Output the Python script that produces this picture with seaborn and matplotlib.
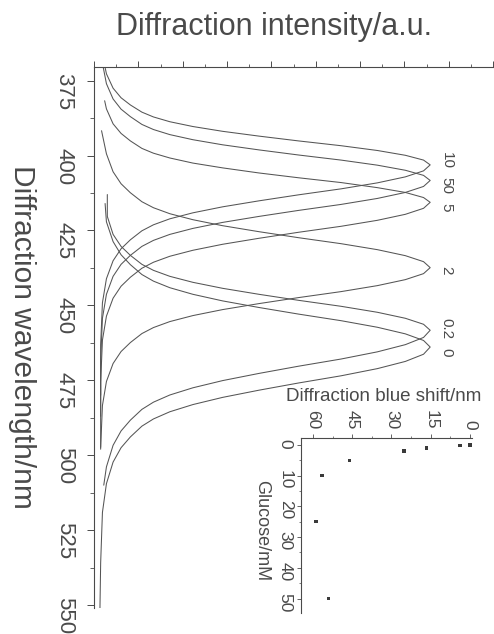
import matplotlib
matplotlib.use("Agg")
import matplotlib.pyplot as plt
from matplotlib.ticker import MultipleLocator
import seaborn as sns
import pandas as pd

# glucose concentration (mM) of each spectrum and its label
curve_labels = ["10", "50", "5", "2", "0.2", "0"]

# spectra: wavelength (nm) and intensity (a.u.)
wl_10 = [355.1, 366.3, 372.7, 377.5, 380.7, 383.1, 385.5, 387.1, 388.7, 390.3, 391.9, 393.5, 395.1, 396.7, 398.3,
         399.9, 401.5, 403.1, 405.1, 407.1, 409.1, 411.1, 413.1, 415.1, 417.1, 419.1, 421.1, 423.1, 425.1, 428.1,
         431.1, 435.1, 441.1, 449.1, 463.1, 480.0]
in_10 = [0.15, 0.19, 0.28, 0.43, 0.61, 0.82, 1.08, 1.34, 1.71, 2.23, 2.90, 3.72, 4.61, 5.57, 6.39, 7.02, 7.43, 7.58,
         7.43, 7.02, 6.39, 5.57, 4.61, 3.72, 2.90, 2.23, 1.71, 1.34, 1.08, 0.82, 0.61, 0.43, 0.28, 0.19, 0.15, 0.15]
wl_50 = [357.3, 369.2, 376.0, 381.1, 384.5, 387.0, 389.6, 391.3, 393.0, 394.7, 396.4, 398.1, 399.8, 401.5, 403.2,
         404.9, 406.6, 408.3, 410.3, 412.3, 414.3, 416.3, 418.3, 420.3, 422.3, 424.3, 426.3, 428.3, 430.3, 433.3,
         436.3, 440.3, 446.3, 454.3, 468.3, 487.0]
in_50 = [0.15, 0.19, 0.28, 0.43, 0.61, 0.82, 1.08, 1.34, 1.71, 2.23, 2.90, 3.72, 4.61, 5.57, 6.39, 7.02, 7.43, 7.58,
         7.43, 7.02, 6.39, 5.57, 4.61, 3.72, 2.90, 2.23, 1.71, 1.34, 1.08, 0.82, 0.61, 0.43, 0.28, 0.19, 0.15, 0.15]
wl_5 = [381.7, 384.4, 389.4, 392.6, 395.1, 397.6, 399.2, 400.8, 402.5, 404.1, 405.8, 407.4, 409.0, 410.7, 412.3,
        414.0, 415.6, 417.6, 419.6, 421.6, 423.6, 425.6, 427.6, 429.6, 431.6, 433.6, 435.6, 437.6, 440.6, 443.6,
        447.6, 453.6, 461.6, 475.6, 498.0]
in_5 = [0.24, 0.28, 0.43, 0.61, 0.82, 1.08, 1.34, 1.71, 2.23, 2.90, 3.72, 4.61, 5.57, 6.39, 7.02, 7.43, 7.58,
        7.43, 7.02, 6.39, 5.57, 4.61, 3.72, 2.90, 2.23, 1.71, 1.34, 1.08, 0.82, 0.61, 0.43, 0.28, 0.19, 0.15, 0.15]
wl_2 = [391.7, 399.4, 405.4, 409.4, 412.4, 415.4, 417.4, 419.4, 421.4, 423.4, 425.4, 427.4, 429.4, 431.4, 433.4,
        435.4, 437.4, 439.4, 441.4, 443.4, 445.4, 447.4, 449.4, 451.4, 453.4, 455.4, 457.4, 459.4, 462.4, 465.4,
        469.4, 475.4, 483.4, 497.4]
in_2 = [0.17, 0.28, 0.43, 0.61, 0.82, 1.08, 1.34, 1.71, 2.23, 2.90, 3.72, 4.61, 5.57, 6.39, 7.02, 7.43, 7.58,
        7.43, 7.02, 6.39, 5.57, 4.61, 3.72, 2.90, 2.23, 1.71, 1.34, 1.08, 0.82, 0.61, 0.43, 0.28, 0.19, 0.15]
wl_02 = [413.0, 420.3, 426.3, 430.3, 433.3, 436.3, 438.3, 440.3, 442.3, 444.3, 446.3, 448.3, 450.3, 452.3, 454.3,
         456.3, 458.3, 460.7, 463.1, 465.5, 467.9, 470.3, 472.7, 475.1, 477.5, 479.9, 482.3, 484.7, 488.3, 491.9,
         496.7, 503.9, 510.0]
in_02 = [0.30, 0.30, 0.43, 0.61, 0.82, 1.08, 1.34, 1.71, 2.23, 2.90, 3.72, 4.61, 5.57, 6.39, 7.02, 7.43, 7.58,
         7.43, 7.02, 6.39, 5.57, 4.61, 3.72, 2.90, 2.23, 1.71, 1.34, 1.08, 0.82, 0.61, 0.43, 0.28, 0.22]
wl_0 = [416.0, 422.1, 428.7, 433.1, 436.4, 439.7, 441.9, 444.1, 446.3, 448.5, 450.7, 452.9, 455.1, 457.3, 459.5,
        461.7, 463.9, 466.3, 468.7, 471.1, 473.5, 475.9, 478.3, 480.7, 483.1, 485.5, 487.9, 490.3, 493.9, 497.5,
        502.3, 509.5, 519.1, 535.9, 555.0]
in_0 = [0.25, 0.28, 0.43, 0.61, 0.82, 1.08, 1.34, 1.71, 2.23, 2.90, 3.72, 4.61, 5.57, 6.39, 7.02, 7.43, 7.58,
        7.43, 7.02, 6.39, 5.57, 4.61, 3.72, 2.90, 2.23, 1.71, 1.34, 1.08, 0.82, 0.61, 0.43, 0.28, 0.19, 0.15, 0.13]

# inset: blue shift vs glucose
glucose = [0, 0.2, 1, 2, 5, 10, 25, 50]
blue_shift = [0, 3.8, 16.5, 25.2, 46, 56.5, 58.8, 54]

# where the curve labels sit (wavelength)
label_wl = [401.5, 410.0, 417.3, 438.3, 457.7, 465.7]

ink = "#4a4a4a"
sns.set_style("ticks")
plt.rcParams["font.family"] = ["Liberation Sans", "DejaVu Sans"]
plt.rcParams["text.color"] = ink
plt.rcParams["axes.edgecolor"] = ink
plt.rcParams["xtick.color"] = ink
plt.rcParams["ytick.color"] = ink
plt.rcParams["axes.linewidth"] = 0.8

curves = [(wl_10, in_10), (wl_50, in_50), (wl_5, in_5), (wl_2, in_2), (wl_02, in_02), (wl_0, in_0)]
rows = []
for name, (wl, inten) in zip(curve_labels, curves):
    for w, v in zip(wl, inten):
        rows.append({"curve": name, "wavelength": w, "intensity": v})
df = pd.DataFrame(rows)

fig = plt.figure(figsize=(4.94, 6.34), dpi=100)
ax = fig.add_axes([0.1903, 0.041, 0.808, 0.853])
sns.lineplot(data=df, x="intensity", y="wavelength", units="curve", estimator=None, sort=False,
             color="#555555", lw=0.75, ax=ax)
ax.set_xlim(0, 9.0)
ax.set_ylim(551, 370.5)
ax.set_xlabel("")
ax.set_ylabel("")
ax.spines["right"].set_visible(False)
ax.spines["bottom"].set_visible(False)
ax.spines["top"].set_visible(True)
ax.xaxis.tick_top()
ax.xaxis.set_major_locator(MultipleLocator(1))
ax.xaxis.set_minor_locator(MultipleLocator(0.5))
ax.yaxis.set_major_locator(MultipleLocator(25))
ax.yaxis.set_minor_locator(MultipleLocator(12.5))
ax.tick_params(axis="x", which="both", direction="out", top=True, bottom=False, labeltop=False, labelbottom=False)
ax.tick_params(axis="x", which="major", length=4, width=0.7)
ax.tick_params(axis="x", which="minor", length=2, width=0.6)
ax.tick_params(axis="y", which="major", direction="out", length=5, width=0.7, labelrotation=-90, labelsize=16, pad=9)
ax.tick_params(axis="y", which="minor", direction="out", length=3, width=0.6)

for text, w in zip(curve_labels, label_wl):
    ax.text(7.95, w, text, rotation=-90, ha="center", va="center", fontsize=11)

fig.text(0.5537, 0.957, "Diffraction intensity/a.u.", ha="center", va="center", fontsize=22)
fig.text(0.045, 0.468, "Diffraction wavelength/nm", ha="center", va="center", rotation=-90, fontsize=21.5)

# inset
axi = fig.add_axes([0.6093, 0.033, 0.3462, 0.2765])
axi.patch.set_alpha(0)
sns.scatterplot(x=blue_shift, y=glucose, marker="s", s=6, color="#3a3a3a", edgecolor="none", ax=axi)
axi.set_xlim(64.6, -0.8)
axi.set_ylim(54.7, -2.3)
axi.spines["right"].set_visible(False)
axi.spines["bottom"].set_visible(False)
axi.spines["top"].set_visible(True)
axi.xaxis.tick_top()
axi.xaxis.set_major_locator(MultipleLocator(15))
axi.xaxis.set_minor_locator(MultipleLocator(7.5))
axi.yaxis.set_major_locator(MultipleLocator(10))
axi.yaxis.set_minor_locator(MultipleLocator(5))
axi.tick_params(axis="x", which="both", direction="out", top=True, bottom=False, labeltop=True, labelbottom=False)
axi.tick_params(axis="x", which="major", length=3, width=0.6, labelrotation=-90, labelsize=12.5, pad=3)
axi.tick_params(axis="x", which="minor", length=1.5, width=0.5)
axi.tick_params(axis="y", which="major", direction="out", length=3, width=0.6, labelrotation=-90, labelsize=12.5, pad=3)
axi.tick_params(axis="y", which="minor", direction="out", length=1.5, width=0.5)
fig.text(0.777, 0.374, "Diffraction blue shift/nm", ha="center", va="center", fontsize=13.5)
fig.text(0.530, 0.1625, "Glucose/mM", ha="center", va="center", rotation=-90, fontsize=13)

fig.savefig("out.png", dpi=100)
